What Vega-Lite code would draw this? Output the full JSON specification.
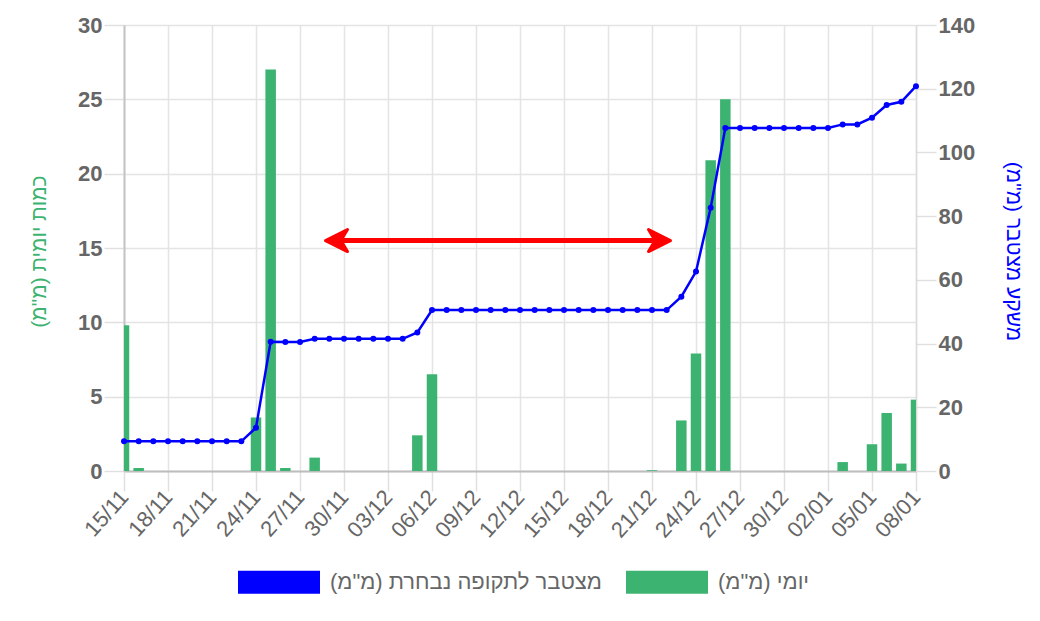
{
  "$schema": "https://vega.github.io/schema/vega-lite/v6.json",
  "width": 792,
  "height": 446,
  "autosize": {"type": "none"},
  "padding": {"left": 124, "top": 25, "right": 124, "bottom": 150},
  "background": "white",
  "config": {
    "view": {"stroke": null},
    "font": "Liberation Sans",
    "axis": {
      "labelFont": "Liberation Sans",
      "titleFont": "Liberation Sans",
      "labelColor": "#666666",
      "gridColor": "#e4e4e4",
      "gridWidth": 1.5,
      "tickColor": "#e0e0e0",
      "tickWidth": 1.5,
      "tickSize": 20
    }
  },
  "datasets": {
    "rain": [
      {"date": "2023-11-15", "daily": 9.8, "cum": 9.3},
      {"date": "2023-11-16", "daily": 0.2, "cum": 9.3},
      {"date": "2023-11-17", "daily": 0, "cum": 9.3},
      {"date": "2023-11-18", "daily": 0, "cum": 9.3},
      {"date": "2023-11-19", "daily": 0, "cum": 9.3},
      {"date": "2023-11-20", "daily": 0, "cum": 9.3},
      {"date": "2023-11-21", "daily": 0, "cum": 9.3},
      {"date": "2023-11-22", "daily": 0, "cum": 9.3},
      {"date": "2023-11-23", "daily": 0, "cum": 9.3},
      {"date": "2023-11-24", "daily": 3.6, "cum": 13.6},
      {"date": "2023-11-25", "daily": 27.0, "cum": 40.6},
      {"date": "2023-11-26", "daily": 0.2, "cum": 40.5},
      {"date": "2023-11-27", "daily": 0, "cum": 40.5},
      {"date": "2023-11-28", "daily": 0.9, "cum": 41.5},
      {"date": "2023-11-29", "daily": 0, "cum": 41.5},
      {"date": "2023-11-30", "daily": 0, "cum": 41.5},
      {"date": "2023-12-01", "daily": 0, "cum": 41.5},
      {"date": "2023-12-02", "daily": 0, "cum": 41.5},
      {"date": "2023-12-03", "daily": 0, "cum": 41.5},
      {"date": "2023-12-04", "daily": 0, "cum": 41.5},
      {"date": "2023-12-05", "daily": 2.4, "cum": 43.5},
      {"date": "2023-12-06", "daily": 6.5, "cum": 50.5},
      {"date": "2023-12-07", "daily": 0, "cum": 50.5},
      {"date": "2023-12-08", "daily": 0, "cum": 50.5},
      {"date": "2023-12-09", "daily": 0, "cum": 50.5},
      {"date": "2023-12-10", "daily": 0, "cum": 50.5},
      {"date": "2023-12-11", "daily": 0, "cum": 50.5},
      {"date": "2023-12-12", "daily": 0, "cum": 50.5},
      {"date": "2023-12-13", "daily": 0, "cum": 50.5},
      {"date": "2023-12-14", "daily": 0, "cum": 50.5},
      {"date": "2023-12-15", "daily": 0, "cum": 50.5},
      {"date": "2023-12-16", "daily": 0, "cum": 50.5},
      {"date": "2023-12-17", "daily": 0, "cum": 50.5},
      {"date": "2023-12-18", "daily": 0, "cum": 50.5},
      {"date": "2023-12-19", "daily": 0, "cum": 50.5},
      {"date": "2023-12-20", "daily": 0, "cum": 50.5},
      {"date": "2023-12-21", "daily": 0.05, "cum": 50.5},
      {"date": "2023-12-22", "daily": 0, "cum": 50.5},
      {"date": "2023-12-23", "daily": 3.4, "cum": 54.7},
      {"date": "2023-12-24", "daily": 7.9, "cum": 62.6},
      {"date": "2023-12-25", "daily": 20.9, "cum": 82.6},
      {"date": "2023-12-26", "daily": 25.0, "cum": 107.7},
      {"date": "2023-12-27", "daily": 0, "cum": 107.7},
      {"date": "2023-12-28", "daily": 0, "cum": 107.7},
      {"date": "2023-12-29", "daily": 0, "cum": 107.7},
      {"date": "2023-12-30", "daily": 0, "cum": 107.7},
      {"date": "2023-12-31", "daily": 0, "cum": 107.7},
      {"date": "2024-01-01", "daily": 0, "cum": 107.7},
      {"date": "2024-01-02", "daily": 0, "cum": 107.7},
      {"date": "2024-01-03", "daily": 0.6, "cum": 108.8},
      {"date": "2024-01-04", "daily": 0, "cum": 108.8},
      {"date": "2024-01-05", "daily": 1.8, "cum": 110.9},
      {"date": "2024-01-06", "daily": 3.9, "cum": 114.9},
      {"date": "2024-01-07", "daily": 0.5, "cum": 115.9},
      {"date": "2024-01-08", "daily": 4.8, "cum": 120.8}
    ],
    "arrow": [
      {"start": "2023-11-29T11:45:00Z", "end": "2023-12-21T12:15:00Z", "level": 15.5}
    ],
    "heads": [
      {"at": "2023-11-29T11:45:00Z", "level": 15.5, "side": "left"},
      {"at": "2023-12-21T12:15:00Z", "level": 15.5, "side": "right"}
    ]
  },
  "layer": [
    {
      "layer": [
        {
          "data": {"name": "rain"},
          "mark": {"type": "bar", "width": 10.5, "clip": true},
          "encoding": {
            "x": {
              "field": "date",
              "type": "temporal",
              "title": null,
              "scale": {
                "type": "utc",
                "nice": false,
                "padding": 0,
                "domain": [
                  {"year": 2023, "month": 11, "date": 15, "utc": true},
                  {"year": 2024, "month": 1, "date": 8, "utc": true}
                ]
              },
              "axis": {
                "grid": true,
                "values": [
                  {"year": 2023, "month": 11, "date": 15, "utc": true},
                  {"year": 2023, "month": 11, "date": 18, "utc": true},
                  {"year": 2023, "month": 11, "date": 21, "utc": true},
                  {"year": 2023, "month": 11, "date": 24, "utc": true},
                  {"year": 2023, "month": 11, "date": 27, "utc": true},
                  {"year": 2023, "month": 11, "date": 30, "utc": true},
                  {"year": 2023, "month": 12, "date": 3, "utc": true},
                  {"year": 2023, "month": 12, "date": 6, "utc": true},
                  {"year": 2023, "month": 12, "date": 9, "utc": true},
                  {"year": 2023, "month": 12, "date": 12, "utc": true},
                  {"year": 2023, "month": 12, "date": 15, "utc": true},
                  {"year": 2023, "month": 12, "date": 18, "utc": true},
                  {"year": 2023, "month": 12, "date": 21, "utc": true},
                  {"year": 2023, "month": 12, "date": 24, "utc": true},
                  {"year": 2023, "month": 12, "date": 27, "utc": true},
                  {"year": 2023, "month": 12, "date": 30, "utc": true},
                  {"year": 2024, "month": 1, "date": 2, "utc": true},
                  {"year": 2024, "month": 1, "date": 5, "utc": true},
                  {"year": 2024, "month": 1, "date": 8, "utc": true}
                ],
                "labelExpr": "utcFormat(datum.value, '%d/%m')",
                "labelAngle": -48,
                "labelAlign": "right",
                "labelBaseline": "middle",
                "labelFontSize": 22,
                "labelPadding": 2,
                "labelOverlap": false,
                "labelBound": false,
                "labelFlush": false,
                "domainColor": "#bdbdbd",
                "domainWidth": 2
              }
            },
            "y": {
              "field": "daily",
              "type": "quantitative",
              "title": "כמות יומית (מ\"מ)",
              "scale": {"domain": [0, 30], "nice": false, "zero": true},
              "axis": {
                "titleColor": "#3cb371",
                "titleFontSize": 21,
                "titleFontWeight": "normal",
                "titleAngle": -90,
                "titleBaseline": "middle",
                "titleX": -85,
                "titleY": 226,
                "values": [0, 5, 10, 15, 20, 25, 30],
                "labelFontSize": 22,
                "labelFontWeight": "bold",
                "labelPadding": 2,
                "grid": true,
                "domainColor": "#c4c4c4",
                "domainWidth": 2
              }
            },
            "color": {
              "datum": "יומי (מ\"מ)",
              "type": "nominal",
              "scale": {
                "domain": ["מצטבר לתקופה נבחרת (מ\"מ)", "יומי (מ\"מ)"],
                "range": ["#0000ff", "#3cb371"]
              },
              "legend": {
                "orient": "none",
                "legendX": 114,
                "legendY": 516,
                "direction": "horizontal",
                "title": null,
                "symbolType": "M-1,-0.28L1,-0.28L1,0.28L-1,0.28Z",
                "symbolSize": 6724,
                "symbolStrokeWidth": 0,
                "symbolOpacity": 1,
                "labelFontSize": 22,
                "labelColor": "#666666",
                "labelFont": "Liberation Sans",
                "labelOffset": 10,
                "columnPadding": 24,
                "labelLimit": 400
              }
            }
          }
        },
        {
          "data": {"name": "arrow"},
          "mark": {"type": "rule", "color": "#ff0000", "strokeWidth": 5},
          "encoding": {
            "x": {"field": "start", "type": "temporal", "title": null},
            "x2": {"field": "end"},
            "y": {"field": "level", "type": "quantitative", "title": "כמות יומית (מ\"מ)"}
          }
        },
        {
          "data": {"name": "heads"},
          "mark": {
            "type": "point",
            "filled": true,
            "color": "#ff0000",
            "stroke": "#ff0000",
            "strokeWidth": 3,
            "strokeJoin": "round",
            "size": 484,
            "opacity": 1
          },
          "encoding": {
            "x": {"field": "at", "type": "temporal", "title": null},
            "y": {"field": "level", "type": "quantitative", "title": "כמות יומית (מ\"מ)"},
            "shape": {
              "field": "side",
              "type": "nominal",
              "scale": {
                "domain": ["left", "right"],
                "range": ["M-1,0L1,-1L0.4,0L1,1Z", "M1,0L-1,-1L-0.4,0L-1,1Z"]
              },
              "legend": null
            }
          }
        }
      ]
    },
    {
      "data": {"name": "rain"},
      "mark": {
        "type": "line",
        "color": "#0000ff",
        "strokeWidth": 2.5,
        "point": {"filled": true, "size": 36, "color": "#0000ff", "opacity": 1}
      },
      "encoding": {
        "x": {"field": "date", "type": "temporal", "title": null},
        "y": {
          "field": "cum",
          "type": "quantitative",
          "title": "משקע מצטבר (מ\"מ)",
          "scale": {"domain": [0, 140], "nice": false},
          "axis": {
            "orient": "right",
            "titleColor": "#0000ff",
            "titleFontSize": 21,
            "titleFontWeight": "normal",
            "titleAngle": 90,
            "titleBaseline": "middle",
            "titleX": 96,
            "titleY": 226,
            "values": [0, 20, 40, 60, 80, 100, 120, 140],
            "labelFontSize": 22,
            "labelFontWeight": "bold",
            "labelPadding": 2,
            "grid": false,
            "domainColor": "#dcdcdc",
            "domainWidth": 1.5
          }
        }
      }
    }
  ],
  "resolve": {"scale": {"y": "independent"}}
}
